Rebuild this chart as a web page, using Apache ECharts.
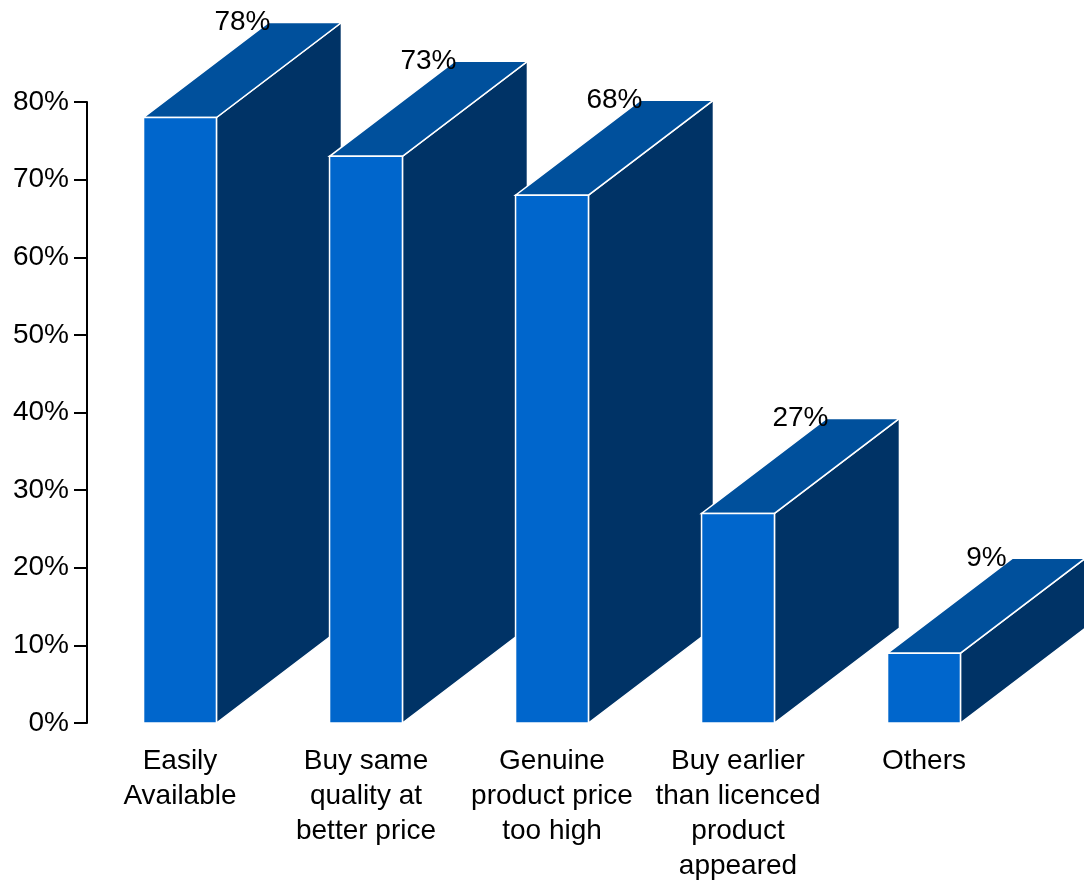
<!DOCTYPE html>
<html>
<head>
<meta charset="utf-8">
<style>
  html, body { margin: 0; padding: 0; background: #ffffff; }
  #chart { width: 1084px; height: 884px; }
</style>
<script src="https://cdn.jsdelivr.net/npm/echarts@6/dist/echarts.min.js"></script>
</head>
<body>
<div id="chart"></div>
<script>
const categories = [
  'Easily\nAvailable',
  'Buy same\nquality at\nbetter price',
  'Genuine\nproduct price\ntoo high',
  'Buy earlier\nthan licenced\nproduct\nappeared',
  'Others'
];
const values = [78, 73, 68, 27, 9];
const yMin = 0;
const yMax = 80;
const yInterval = 10;

const FONT = "'Liberation Sans', Arial, sans-serif";
const DEPTH_X = 125;
const DEPTH_Y = 95;
const COLOR_FRONT = '#0066CC';
const COLOR_TOP = '#00509C';
const COLOR_SIDE = '#003366';

const chart = echarts.init(document.getElementById('chart'), null, { renderer: 'canvas' });

function renderItem(params, api) {
  const idx = api.value(0);
  const val = api.value(1);
  const base = api.coord([idx, 0]);
  const top = api.coord([idx, val]);
  const w = api.size([1, 0])[0] * 0.392;
  const x0 = base[0] - w / 2;
  const x1 = base[0] + w / 2;
  const yb = base[1];
  const yt = top[1];
  const stroke = { stroke: '#ffffff', lineWidth: 1.5 };
  return {
    type: 'group',
    children: [
      {
        type: 'polygon',
        shape: { points: [[x1, yt], [x1 + DEPTH_X, yt - DEPTH_Y], [x1 + DEPTH_X, yb - DEPTH_Y], [x1, yb]] },
        style: Object.assign({ fill: COLOR_SIDE }, stroke)
      },
      {
        type: 'polygon',
        shape: { points: [[x0, yt], [x1, yt], [x1 + DEPTH_X, yt - DEPTH_Y], [x0 + DEPTH_X, yt - DEPTH_Y]] },
        style: Object.assign({ fill: COLOR_TOP }, stroke)
      },
      {
        type: 'rect',
        shape: { x: x0, y: yt, width: w, height: yb - yt },
        style: Object.assign({ fill: COLOR_FRONT }, stroke)
      },
      {
        type: 'text',
        x: base[0] + DEPTH_X / 2,
        y: yt - DEPTH_Y,
        style: {
          text: val + '%',
          fill: '#000000',
          font: '28px ' + FONT,
          align: 'center',
          verticalAlign: 'middle'
        }
      }
    ]
  };
}

const option = {
  backgroundColor: '#ffffff',
  animation: false,
  grid: { left: 87, right: 67, top: 102, bottom: 157, containLabel: false },
  xAxis: {
    type: 'category',
    data: categories,
    axisLine: { show: false },
    axisTick: { show: false },
    axisLabel: {
      interval: 0,
      margin: 21,
      color: '#000000',
      fontSize: 28,
      fontFamily: FONT,
      lineHeight: 35,
      align: 'center'
    }
  },
  yAxis: {
    type: 'value',
    min: yMin,
    max: yMax,
    interval: yInterval,
    splitLine: { show: false },
    axisLine: { show: true, lineStyle: { color: '#000000', width: 2 } },
    axisTick: { show: true, length: 13, lineStyle: { color: '#000000', width: 2 } },
    axisLabel: {
      formatter: '{value}%',
      margin: 18,
      color: '#000000',
      fontSize: 28,
      fontFamily: FONT
    }
  },
  series: [{
    type: 'custom',
    renderItem: renderItem,
    clip: false,
    data: values.map((v, i) => [i, v])
  }]
};

chart.setOption(option);
</script>
</body>
</html>
